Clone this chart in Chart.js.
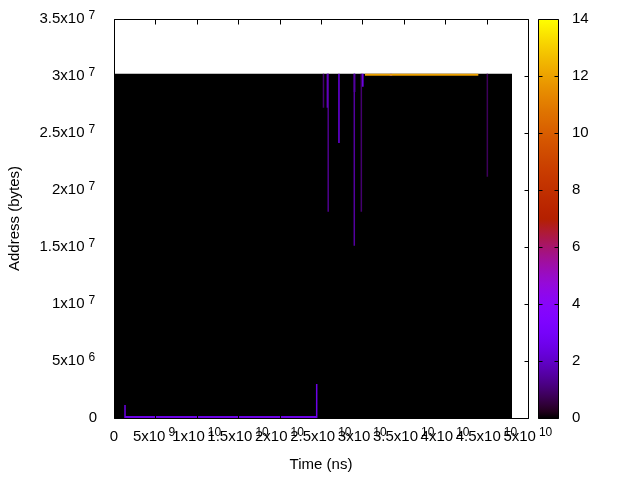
<!DOCTYPE html>
<html>
<head>
<meta charset="utf-8">
<script src="https://cdn.jsdelivr.net/npm/chart.js@4.4.1/dist/chart.umd.min.js"></script>
<style>
    body { margin: 0; background: #fff; }
</style>
</head>
<body>
<canvas id="heatmap" width="640" height="480"></canvas>
<script>
// Memory access heatmap (gnuplot style) redrawn with Chart.js

// axis ticks
const xTickValues = [0, 5e9, 1e10, 1.5e10, 2e10, 2.5e10, 3e10, 3.5e10, 4e10, 4.5e10, 5e10];
const yTickValues = [0, 5e6, 1e7, 1.5e7, 2e7, 2.5e7, 3e7, 3.5e7];
const cbTickValues = [0, 2, 4, 6, 8, 10, 12, 14];

// zero-valued field covering the sampled range
const fieldEndX = 4.807e10;
const fieldTopY = 3.02e7;
const fieldValue = 0;

// vertical streaks (time, address from, address to, count)
const streakX = [2.530e10, 2.587e10, 2.578e10, 2.717e10, 2.902e10, 2.905e10, 2.987e10, 3.005e10, 4.509e10, 1.33e9, 2.448e10];
const streakFrom = [3.02e7, 3.02e7, 3.02e7, 3.02e7, 3.02e7, 3.02e7, 3.02e7, 3.02e7, 3.02e7, 1.14e6, 2.98e6];
const streakTo = [2.722e7, 1.810e7, 2.722e7, 2.412e7, 1.511e7, 2.86e7, 1.810e7, 2.906e7, 2.117e7, 0, 0];
const streakValue = [1, 1.3, 3, 2.5, 1.5, 3, 1, 3, 0.8, 2.5, 2.5];

// horizontal traces (time from, time to, address, count)
const traceFrom = [1.33e9, 3.031e10, 3.33e10];
const traceTo = [2.448e10, 4.400e10, 3.36e10];
const traceY = [8e4, 3.01e7, 3.01e7];
const traceValue = [2.5, 12, 3];

const cbMax = 14;
const FONT = "'Liberation Sans', Arial, sans-serif";

// gnuplot default palette (rgbformulae 7,5,15)
function paletteColor(v) {
    const t = Math.min(Math.max(v / cbMax, 0), 1);
    const r = Math.sqrt(t);
    const g = t * t * t;
    const b = Math.max(Math.sin(2 * Math.PI * t), 0);
    return `rgb(${Math.round(r * 255)},${Math.round(g * 255)},${Math.round(b * 255)})`;
}

// split 3.5e7 -> { mant: '3.5x10', exp: '7' }
function sciParts(v) {
    if (v === 0) return { mant: '0', exp: '' };
    const e = Math.floor(Math.log10(v) + 1e-9);
    const m = +(v / Math.pow(10, e)).toFixed(1);
    return { mant: m + 'x10', exp: String(e) };
}

// mantissa plus room for the raised exponent, drawn by the plugin below
function tickLabel(v) {
    const p = sciParts(v);
    if (!p.exp) return p.mant;
    return p.mant + ' '.repeat(p.exp.length + 2);
}

function useTicks(values) {
    return function(scale) {
        scale.ticks = values.map(v => ({ value: v }));
    };
}

function fixSize(prop, size) {
    return function(scale) {
        scale[prop] = size;
        scale.paddingTop = 0;
        scale.paddingBottom = 0;
        scale.paddingLeft = 0;
        scale.paddingRight = 0;
    };
}

const datasets = [];

datasets.push({
    data: [{ x: 0, y: fieldTopY }, { x: fieldEndX, y: fieldTopY }],
    fill: 'origin',
    backgroundColor: paletteColor(fieldValue),
    borderWidth: 0,
    pointRadius: 0,
    order: 10
});

streakX.forEach((x, i) => {
    datasets.push({
        data: [{ x: x, y: streakFrom[i] }, { x: x, y: streakTo[i] }],
        borderColor: paletteColor(streakValue[i]),
        borderWidth: 1.5,
        pointRadius: 0,
        fill: false,
        order: 1
    });
});

traceFrom.forEach((x0, i) => {
    datasets.push({
        data: [{ x: x0, y: traceY[i] }, { x: traceTo[i], y: traceY[i] }],
        borderColor: paletteColor(traceValue[i]),
        borderWidth: 2,
        pointRadius: 0,
        fill: false,
        order: 0
    });
});

// border, inward ticks, exponents and the colour box
const framePlugin = {
    id: 'frame',
    afterDraw(chart) {
        const { ctx, chartArea: ca, scales } = chart;
        const left = Math.round(ca.left) + 0.5;
        const right = Math.round(ca.right) + 0.5;
        const top = Math.round(ca.top) + 0.5;
        const bottom = Math.round(ca.bottom) + 0.5;
        ctx.save();
        ctx.strokeStyle = '#000';
        ctx.lineWidth = 1;
        ctx.beginPath();
        ctx.rect(left, top, right - left, bottom - top);
        xTickValues.forEach(v => {
            const px = Math.round(scales.x.getPixelForValue(v)) + 0.5;
            ctx.moveTo(px, bottom); ctx.lineTo(px, bottom - 5);
            ctx.moveTo(px, top); ctx.lineTo(px, top + 5);
        });
        yTickValues.forEach(v => {
            const py = Math.round(scales.y.getPixelForValue(v)) + 0.5;
            ctx.moveTo(left, py); ctx.lineTo(left + 4, py);
            ctx.moveTo(right, py); ctx.lineTo(right - 4, py);
        });
        ctx.stroke();

        // raised exponents on the tick labels
        const mainFont = '15px ' + FONT;
        const supFont = '12px ' + FONT;
        ctx.fillStyle = '#000';
        ctx.textBaseline = 'middle';
        ctx.textAlign = 'left';
        xTickValues.forEach(v => {
            const p = sciParts(v);
            if (!p.exp) return;
            ctx.font = mainFont;
            const full = ctx.measureText(tickLabel(v)).width;
            const mant = ctx.measureText(p.mant).width;
            const px = scales.x.getPixelForValue(v);
            const y = scales.x.top + 10 + 9 - 4;
            ctx.font = supFont;
            ctx.fillText(p.exp, px - full / 2 + mant + 3, y);
        });
        yTickValues.forEach(v => {
            const p = sciParts(v);
            if (!p.exp) return;
            ctx.font = mainFont;
            const full = ctx.measureText(tickLabel(v)).width;
            const mant = ctx.measureText(p.mant).width;
            const rightEdge = scales.y.right - 17;
            const py = scales.y.getPixelForValue(v);
            ctx.font = supFont;
            ctx.fillText(p.exp, rightEdge - full + mant + 4, py - 3);
        });

        // colour box
        const cb = scales.cb;
        const bx0 = Math.round(cb.left) + 10.5;
        const bx1 = bx0 + 20;
        const by0 = Math.round(cb.getPixelForValue(cbMax)) + 0.5;
        const by1 = Math.round(cb.getPixelForValue(0)) + 0.5;
        const grad = ctx.createLinearGradient(0, by1, 0, by0);
        for (let i = 0; i <= 56; i++) {
            grad.addColorStop(i / 56, paletteColor(i / 56 * cbMax));
        }
        ctx.fillStyle = grad;
        ctx.fillRect(bx0, by0, bx1 - bx0, by1 - by0);
        ctx.beginPath();
        ctx.rect(bx0, by0, bx1 - bx0, by1 - by0);
        cbTickValues.forEach(v => {
            const py = Math.round(cb.getPixelForValue(v)) + 0.5;
            ctx.moveTo(bx0, py); ctx.lineTo(bx0 + 4, py);
            ctx.moveTo(bx1, py); ctx.lineTo(bx1 - 4, py);
        });
        ctx.stroke();
        ctx.restore();
    }
};

Chart.defaults.font.family = FONT;
Chart.defaults.font.size = 15;
Chart.defaults.color = '#000';

new Chart(document.getElementById('heatmap'), {
    type: 'line',
    data: { datasets: datasets },
    options: {
        responsive: false,
        animation: false,
        events: [],
        layout: { padding: { top: 19, left: 0, right: 0, bottom: 0 } },
        plugins: {
            legend: { display: false },
            tooltip: { enabled: false }
        },
        scales: {
            x: {
                type: 'linear',
                position: 'bottom',
                min: 0,
                max: 5e10,
                afterBuildTicks: useTicks(xTickValues),
                afterFit: fixSize('height', 62),
                grid: { display: false, drawTicks: false },
                border: { display: false },
                ticks: {
                    autoSkip: false,
                    maxRotation: 0,
                    minRotation: 0,
                    padding: 10,
                    callback: v => tickLabel(v)
                },
                title: { display: true, text: 'Time (ns)', padding: { top: 0, bottom: 6 } }
            },
            y: {
                type: 'linear',
                position: 'left',
                min: 0,
                max: 3.5e7,
                afterBuildTicks: useTicks(yTickValues),
                afterFit: fixSize('width', 114),
                grid: { display: false, drawTicks: false },
                border: { display: false },
                ticks: { padding: 17, callback: v => tickLabel(v) },
                title: { display: true, text: 'Address (bytes)', padding: { top: 6, bottom: 0 } }
            },
            cb: {
                type: 'linear',
                position: 'right',
                min: 0,
                max: cbMax,
                afterBuildTicks: useTicks(cbTickValues),
                afterFit: fixSize('width', 112),
                grid: { display: false, drawTicks: false },
                border: { display: false },
                ticks: { padding: 44, callback: v => String(v) }
            }
        }
    },
    plugins: [framePlugin]
});
</script>
</body>
</html>
